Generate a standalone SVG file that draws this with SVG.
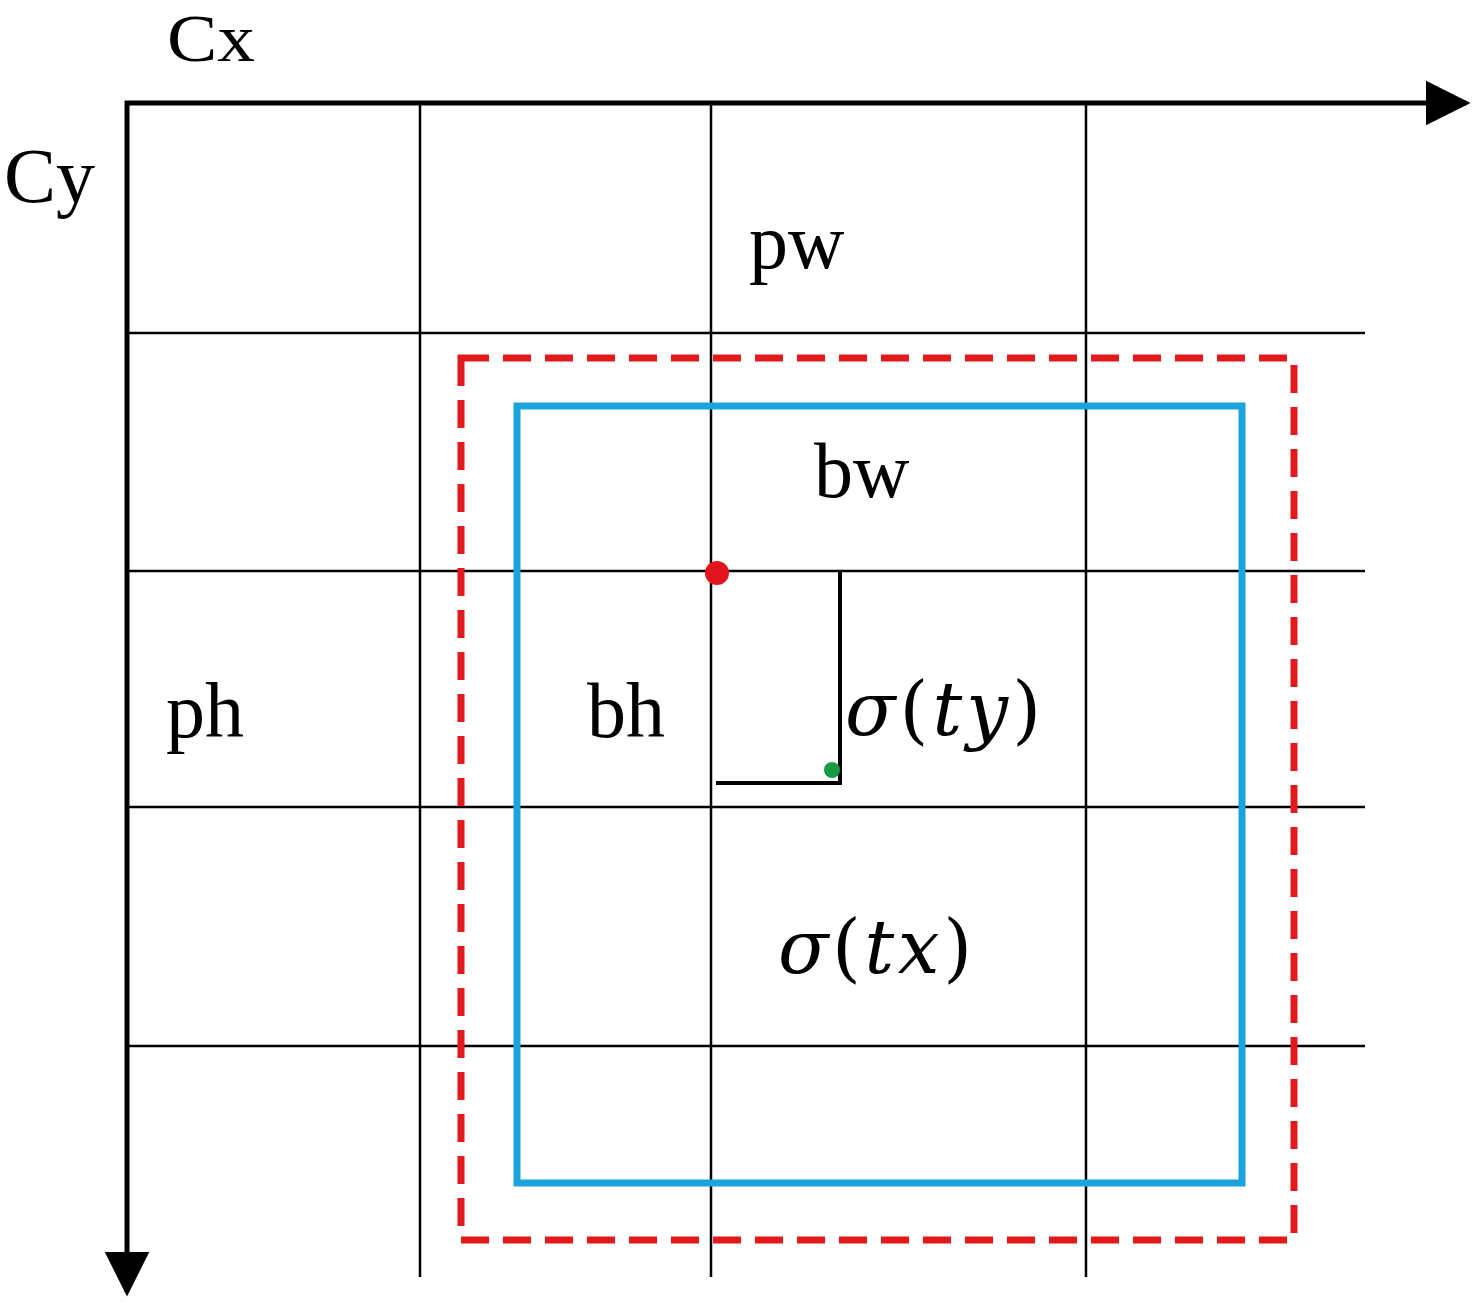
<svg xmlns="http://www.w3.org/2000/svg" width="1476" height="1303" viewBox="0 0 1476 1303">
<style>
.grid{stroke:#000;stroke-width:2.5;fill:none}
.axis{stroke:#000;stroke-width:5;fill:none}
.t{font-family:"Liberation Serif","Times New Roman",serif;font-size:78px;fill:#000}
.m{font-family:"DejaVu Serif","Liberation Serif",serif;font-size:74px;fill:#000}
.i{font-style:italic}
</style>
<defs>
<marker id="arr" viewBox="0 0 10 10" refX="9" refY="5" markerWidth="9" markerHeight="9" markerUnits="strokeWidth" orient="auto">
<path d="M0,0 L10,5 L0,10 z" fill="#000"/>
</marker>
</defs>
<rect width="1476" height="1303" fill="#fff"/>
<g id="grid">
<line class="grid" x1="420" y1="103" x2="420" y2="1277"/>
<line class="grid" x1="711" y1="103" x2="711" y2="1277"/>
<line class="grid" x1="1086" y1="103" x2="1086" y2="1277"/>
<line class="grid" x1="127" y1="333" x2="1365" y2="333"/>
<line class="grid" x1="127" y1="571" x2="1365" y2="571"/>
<line class="grid" x1="127" y1="807" x2="1365" y2="807"/>
<line class="grid" x1="127" y1="1046" x2="1365" y2="1046"/>
</g>
<g id="connectors">
<line class="axis" x1="125" y1="103" x2="1466" y2="103" marker-end="url(#arr)"/>
<line class="axis" x1="127" y1="101" x2="127" y2="1292" marker-end="url(#arr)"/>
<polyline points="716,783 840,783 840,571" fill="none" stroke="#000" stroke-width="4"/>
</g>
<g id="anchor-box">
<rect x="461" y="358" width="833" height="882" fill="none" stroke="#e31a1c" stroke-width="7" stroke-dasharray="28,14"/>
</g>
<g id="pred-box">
<rect x="517" y="406" width="725" height="777" fill="none" stroke="#1ba3de" stroke-width="7"/>
</g>
<g id="points">
<circle cx="717" cy="573" r="12" fill="#e3141e"/>
<circle cx="832" cy="770" r="8" fill="#1a9a45"/>
</g>
<g id="labels">
<text class="t" x="167" y="61" style="font-size:68px" textLength="88" lengthAdjust="spacingAndGlyphs">Cx</text>
<text class="t" x="4" y="202">Cy</text>
<text class="t" x="749" y="268">pw</text>
<text class="t" x="814" y="497">bw</text>
<text class="t" x="166" y="737">ph</text>
<text class="t" x="587" y="737">bh</text>
<text class="m" x="845" y="735" textLength="196" lengthAdjust="spacing"><tspan class="i">σ</tspan>(<tspan class="i">ty</tspan>)</text>
<text class="m" x="778" y="973" textLength="194" lengthAdjust="spacing"><tspan class="i">σ</tspan>(<tspan class="i">tx</tspan>)</text>
</g>
</svg>
